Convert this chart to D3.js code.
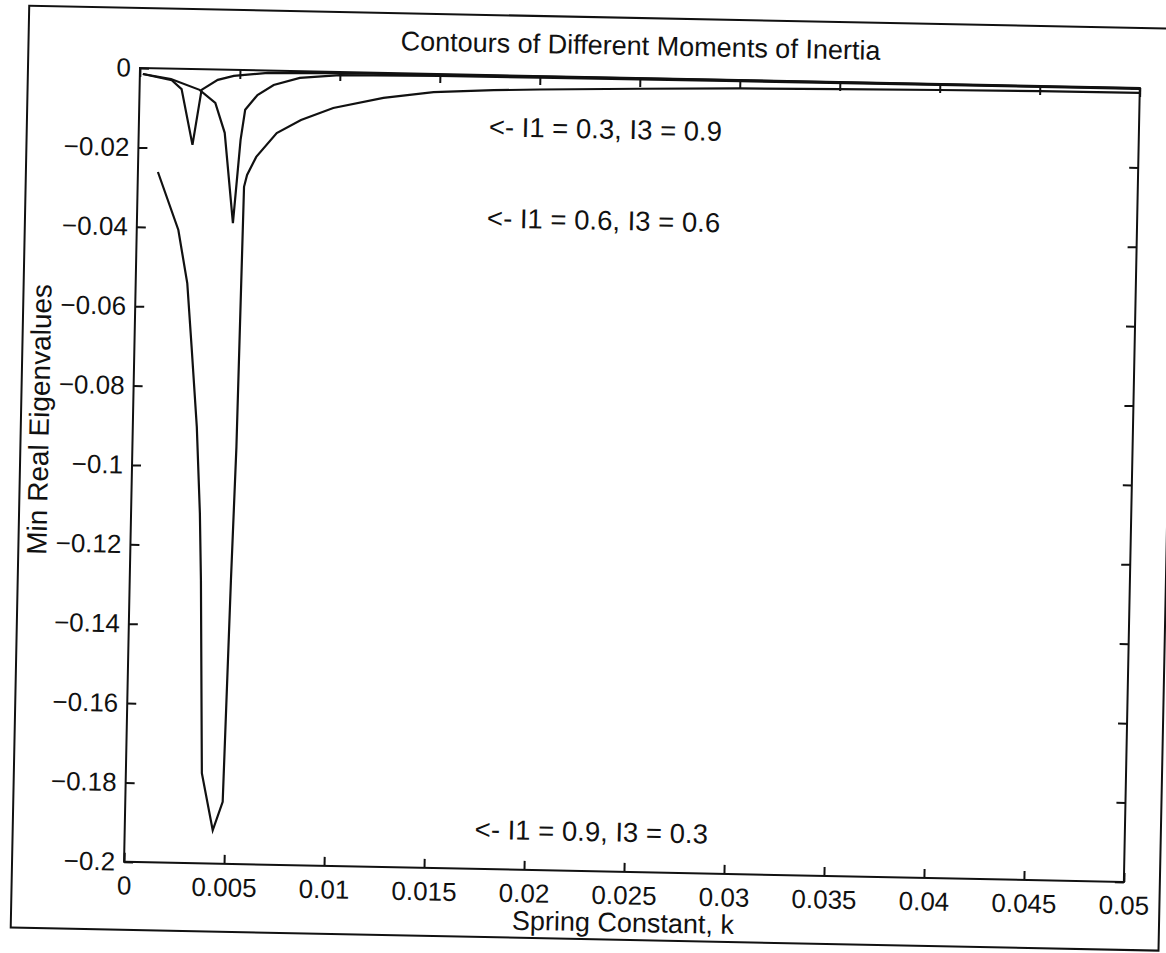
<!DOCTYPE html>
<html>
<head>
<meta charset="utf-8">
<script src="https://cdn.jsdelivr.net/npm/d3@7"></script>
<style>
  html, body { margin: 0; padding: 0; background: #fff; }
  svg { display: block; }
  text { font-family: "Liberation Sans", Arial, Helvetica, sans-serif; fill: #111; }
</style>
</head>
<body>
<svg id="chart" width="1166" height="953"></svg>
<script>
// Spring constant k (x) and minimum real eigenvalue (y) for each inertia pair
const kA = [0.00015, 0.0016, 0.0021, 0.0027, 0.0031, 0.0039, 0.0047, 0.0064, 0.010, 0.020, 0.030, 0.040, 0.050];
const vA = [-0.0015, -0.0029, -0.0051, -0.0191, -0.0052, -0.0026, -0.0015, -0.0006, -0.0003, -0.00015, -0.0001, -0.0001, -0.0001];

const kB = [0.00015, 0.00156, 0.0030, 0.0038, 0.0043, 0.0048, 0.0051, 0.0053, 0.0059, 0.0067, 0.0080, 0.0100, 0.015, 0.020, 0.030, 0.040, 0.050];
const vB = [-0.0015, -0.0026, -0.0052, -0.0084, -0.0159, -0.0386, -0.0176, -0.0100, -0.0062, -0.0036, -0.0017, -0.0008, -0.0005, -0.0004, -0.0003, -0.0002, -0.0002];

const kC = [0.0010, 0.00208, 0.00258, 0.00286, 0.0032, 0.00344, 0.00356, 0.0038, 0.0044, 0.00487, 0.00506, 0.0052, 0.00532, 0.00546, 0.0059, 0.0069, 0.0081, 0.0097, 0.0122, 0.0147, 0.0177, 0.020, 0.025, 0.030, 0.035, 0.040, 0.045, 0.050];
const vC = [-0.0261, -0.0406, -0.0540, -0.0700, -0.0901, -0.1118, -0.1287, -0.1773, -0.1916, -0.1844, -0.1285, -0.0950, -0.0294, -0.0264, -0.0218, -0.0157, -0.0123, -0.0091, -0.0063, -0.0046, -0.0038, -0.0034, -0.0027, -0.0021, -0.0018, -0.0015, -0.0013, -0.0012];

const seriesK = [kA, kB, kC];
const seriesV = [vA, vB, vC];

// Curve annotations
const noteText = ["<- I1 = 0.3, I3 = 0.9", "<- I1 = 0.6, I3 = 0.6", "<- I1 = 0.9, I3 = 0.3"];
const noteK = [0.0175, 0.0175, 0.0175];
const noteV = [-0.013, -0.036, -0.19];

// Axis ticks
const xTicks = [0, 0.005, 0.01, 0.015, 0.02, 0.025, 0.03, 0.035, 0.04, 0.045, 0.05];
const xTickLabels = ["0", "0.005", "0.01", "0.015", "0.02", "0.025", "0.03", "0.035", "0.04", "0.045", "0.05"];
const yTicks = [0, -0.02, -0.04, -0.06, -0.08, -0.1, -0.12, -0.14, -0.16, -0.18, -0.2];
const yTickLabels = ["0", "\u22120.02", "\u22120.04", "\u22120.06", "\u22120.08", "\u22120.1", "\u22120.12", "\u22120.14", "\u22120.16", "\u22120.18", "\u22120.2"];

const titleText = "Contours of Different Moments of Inertia";
const xLabelText = "Spring Constant, k";
const yLabelText = "Min Real Eigenvalues";

const W = 1000, H = 794;
const ink = "#111";

const svg = d3.select("#chart");
svg.append("rect").attr("width", 1166).attr("height", 953).attr("fill", "#fff");

// The printed page sits slightly skewed; everything is drawn in the plot's own frame
const g = svg.append("g").attr("transform", "translate(140,68) rotate(1.15)");

const x = d3.scaleLinear().domain([0, 0.05]).range([0, W]);
const y = d3.scaleLinear().domain([-0.2, 0]).range([H, 0]);

// Outer page frame
g.append("rect")
  .attr("x", -112).attr("y", -60)
  .attr("width", 1148).attr("height", 922)
  .attr("fill", "none").attr("stroke", ink).attr("stroke-width", 2);

// Curves
const line = d3.line().x(d => x(d[0])).y(d => y(d[1]));
seriesK.forEach((ks, i) => {
  const pts = ks.map((k, j) => [k, seriesV[i][j]]);
  g.append("path")
    .attr("d", line(pts))
    .attr("fill", "none")
    .attr("stroke", ink)
    .attr("stroke-width", 2.2)
    .attr("stroke-linejoin", "miter");
});

// Axes (ticks point inward on all four sides)
const fmtX = (d) => xTickLabels[xTicks.indexOf(d)];
const fmtY = (d) => yTickLabels[yTicks.indexOf(d)];

const styleAxis = (sel) => {
  sel.select(".domain").remove();
  sel.selectAll(".tick line").attr("stroke", ink).attr("stroke-width", 2);
  sel.selectAll(".tick text").attr("font-size", 26).style("font-family", '"Liberation Sans", Arial, sans-serif').attr("fill", ink);
};

g.append("g").attr("transform", `translate(0,${H})`)
  .call(d3.axisBottom(x).tickValues(xTicks).tickFormat(fmtX).tickSize(-9).tickPadding(14))
  .call(styleAxis);
g.append("g")
  .call(d3.axisTop(x).tickValues(xTicks).tickFormat("").tickSize(-9))
  .call(styleAxis);
g.append("g")
  .call(d3.axisLeft(y).tickValues(yTicks).tickFormat(fmtY).tickSize(-9).tickPadding(9))
  .call(styleAxis);
g.append("g").attr("transform", `translate(${W},0)`)
  .call(d3.axisRight(y).tickValues(yTicks).tickFormat("").tickSize(-9))
  .call(styleAxis);

// Plot box
g.append("rect")
  .attr("width", W).attr("height", H)
  .attr("fill", "none").attr("stroke", ink).attr("stroke-width", 2);

// Annotations
noteText.forEach((t, i) => {
  g.append("text")
    .attr("x", x(noteK[i]))
    .attr("y", y(noteV[i]))
    .attr("dy", "0.35em")
    .attr("font-size", 27.5)
    .text(t);
});

// Title and axis labels
g.append("text")
  .attr("x", W / 2).attr("y", -23)
  .attr("text-anchor", "middle")
  .attr("font-size", 27)
  .text(titleText);

g.append("text")
  .attr("x", W / 2).attr("y", H + 60)
  .attr("text-anchor", "middle")
  .attr("font-size", 27)
  .text(xLabelText);

g.append("text")
  .attr("transform", `translate(-84,${y(-0.089)}) rotate(-90)`)
  .attr("text-anchor", "middle")
  .attr("font-size", 28)
  .text(yLabelText);
</script>
</body>
</html>
